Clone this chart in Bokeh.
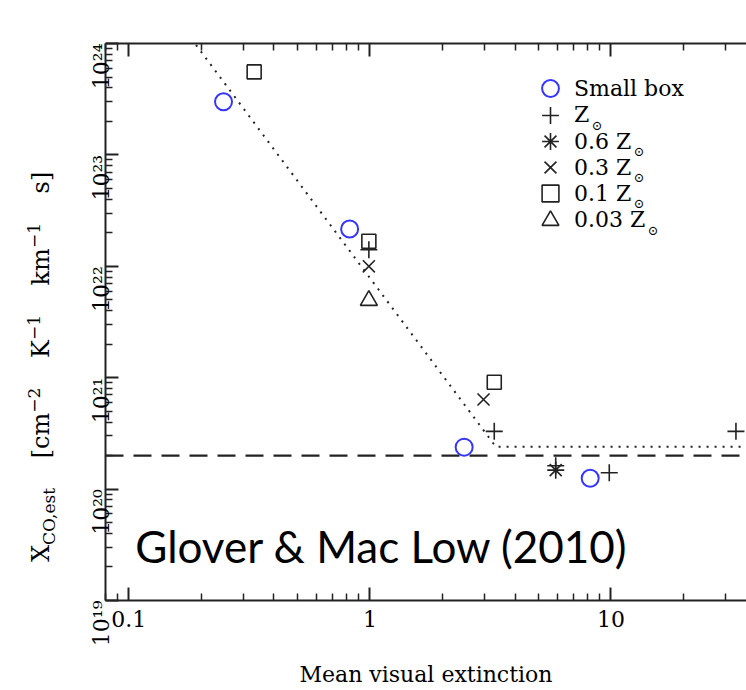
import numpy as np
from bokeh.plotting import figure
from bokeh.layouts import row
from bokeh.models import (Range1d, LogAxis, FixedTicker, Span, Label, Legend, LegendItem, Div)
from bokeh.embed import file_html
from bokeh.resources import INLINE

# ---------------- data ----------------
small_box_x = [0.247, 0.824, 2.46, 8.2]
small_box_y = [3.0e23, 2.16e22, 2.38e20, 1.25e20]

zsun_x = [0.99, 3.28, 5.9, 9.84, 33.0]
zsun_y = [1.41e22, 3.3e20, 1.62e20, 1.4e20, 3.3e20]

z06_x = [5.9]
z06_y = [1.48e20]

z03_x = [0.99, 2.96]
z03_y = [1.0e22, 6.37e20]

z01_x = [0.331, 0.99, 3.28]
z01_y = [5.56e23, 1.68e22, 9.1e20]

z003_x = [0.99]
z003_y = [4.94e21]

fit_x = [0.19, 3.33, 40.0]
fit_y = [9.7e23, 2.4e20, 2.4e20]

galactic_x_co = 2.0e20

x_major = [0.1, 1, 10]
x_major_labels = ["0.1", "1", "10"]
x_minor = [m * 10.0 ** e for e in (-2, -1, 0, 1) for m in range(2, 10)]
y_major = [1e19, 1e20, 1e21, 1e22, 1e23, 1e24]
y_major_labels = ["10¹⁹", "10²⁰", "10²¹", "10²²", "10²³", "10²⁴"]
y_minor = [m * 10.0 ** e for e in range(19, 24) for m in range(2, 10)]

legend_labels = ["Small box", "Z", "0.6 Z", "0.3 Z", "0.1 Z", "0.03 Z"]

SERIF = "DejaVu Serif"
INK = "#222222"
BLUE = "#3535ff"

FL, FB = 104.3, 600.0   # page position of frame left / bottom (for screen-unit placement)

p = figure(x_axis_type="log", y_axis_type="log",
           x_range=Range1d(0.08, 36.5), y_range=Range1d(1e19, 1e24),
           width=685, height=690,
           min_border_left=44, min_border_right=0, min_border_top=43, min_border_bottom=90,
           output_backend="svg", toolbar_location=None)
p.outline_line_color = None
p.xgrid.visible = False
p.ygrid.visible = False
p.background_fill_color = "white"
p.border_fill_color = "white"

bottom_axis = p.below[0]
left_axis = p.left[0]
top_axis = LogAxis()
p.add_layout(top_axis, "above")

xt = FixedTicker(ticks=x_major, minor_ticks=x_minor)
yt = FixedTicker(ticks=y_major, minor_ticks=y_minor)
bottom_axis.ticker = xt
top_axis.ticker = xt
left_axis.ticker = yt

for ax in [bottom_axis, left_axis, top_axis]:
    ax.axis_line_width = 2
    ax.axis_line_color = INK
    ax.major_tick_in = 13
    ax.major_tick_out = 0
    ax.minor_tick_in = 7
    ax.minor_tick_out = 0
    ax.major_tick_line_width = 2
    ax.minor_tick_line_width = 1.5
    ax.major_tick_line_color = INK
    ax.minor_tick_line_color = INK
    ax.major_label_text_font = SERIF
    ax.major_label_text_font_size = "22px"
    ax.major_label_text_color = "black"

top_axis.major_label_text_color = None
top_axis.major_label_standoff = 0

bottom_axis.major_label_overrides = {t: s for t, s in zip(x_major, x_major_labels)}
bottom_axis.major_label_standoff = 10
bottom_axis.axis_label = "Mean visual extinction"
bottom_axis.axis_label_text_font = SERIF
bottom_axis.axis_label_text_font_size = "22px"
bottom_axis.axis_label_text_font_style = "normal"
bottom_axis.axis_label_text_color = "black"
bottom_axis.axis_label_standoff = 32

left_axis.major_label_overrides = {t: s for t, s in zip(y_major, y_major_labels)}
left_axis.major_label_orientation = np.pi / 2
left_axis.major_label_standoff = 4

# reference lines
p.add_layout(Span(location=galactic_x_co, dimension="width", line_color=INK,
                  line_width=2.2, line_dash="18 10"))
p.line(fit_x, fit_y, line_color=INK, line_width=2, line_dash="2 6")

# points
r_sb = p.scatter(small_box_x, small_box_y, marker="circle", size=17, fill_color=None,
                 line_color=BLUE, line_width=2)
r_z = p.scatter(zsun_x, zsun_y, marker="cross", size=17, line_color=INK, line_width=1.6)
r_z06 = p.scatter(z06_x, z06_y, marker="asterisk", size=17, line_color=INK, line_width=1.6)
r_z03 = p.scatter(z03_x, z03_y, marker="x", size=17, line_color=INK, line_width=1.6)
r_z01 = p.scatter(z01_x, z01_y, marker="square", size=14, fill_color=None, line_color=INK,
                  line_width=1.6)
r_z003 = p.scatter(z003_x, z003_y, marker="triangle", size=17, fill_color=None, line_color=INK,
                   line_width=1.6)

# legend: one single-item legend per row, so rows can be packed tightly with large glyphs
renderers = [r_sb, r_z, r_z06, r_z03, r_z01, r_z003]
row_centers = [88, 114.5, 141, 167, 193, 219.5]     # page y of legend rows
GLYPH = 42
for lab, rend, yc in zip(legend_labels, renderers, row_centers):
    lg = Legend(items=[LegendItem(label=lab, renderers=[rend])],
                location=(549.3 - GLYPH / 2 - FL, FB - (yc + GLYPH / 2)),
                padding=0, margin=0, spacing=0,
                glyph_width=GLYPH, glyph_height=GLYPH, label_height=20, label_standoff=3,
                border_line_color=None, background_fill_alpha=0,
                label_text_font=SERIF, label_text_font_size="22px", label_text_color="black")
    p.add_layout(lg)

# solar subscripts in the legend
sun_x = [596, 638, 638, 638, 652]
for sx_, yc in zip(sun_x, row_centers[1:]):
    p.add_layout(Label(x=sx_ - FL, y=FB - (yc + 10), x_units="screen", y_units="screen", text="⊙",
                       text_font=SERIF, text_font_size="13px", text_align="center",
                       text_baseline="middle", text_color="black"))

# annotation
p.add_layout(Label(x=134 - FL, y=FB - 545, x_units="screen", y_units="screen",
                   text="Glover & Mac Low (2010)",
                   text_font="Lato", text_font_size="44px", text_baseline="middle",
                   text_color="black"))

# y axis title (rotated HTML text so that sub/superscripts stay real text)
ytitle_html = (
    '<div style="transform: translate(26px, 562px) rotate(-90deg); transform-origin: 0 0; '
    'white-space: nowrap; font-family: \'DejaVu Serif\'; font-size: 24px; line-height: 1; '
    'color: black; word-spacing: 22px;">'
    'X<sub style="font-size:17px">CO,est</sub> [cm<sup style="font-size:17px">\u22122</sup> '
    'K<sup style="font-size:17px">\u22121</sup> km<sup style="font-size:17px">\u22121</sup> s]'
    '</div>'
)
ydiv = Div(text=ytitle_html, width=61, height=690, margin=(0, 0, 0, 0))

layout = row(ydiv, p)
open("out.html", "w").write(file_html(layout, INLINE))
